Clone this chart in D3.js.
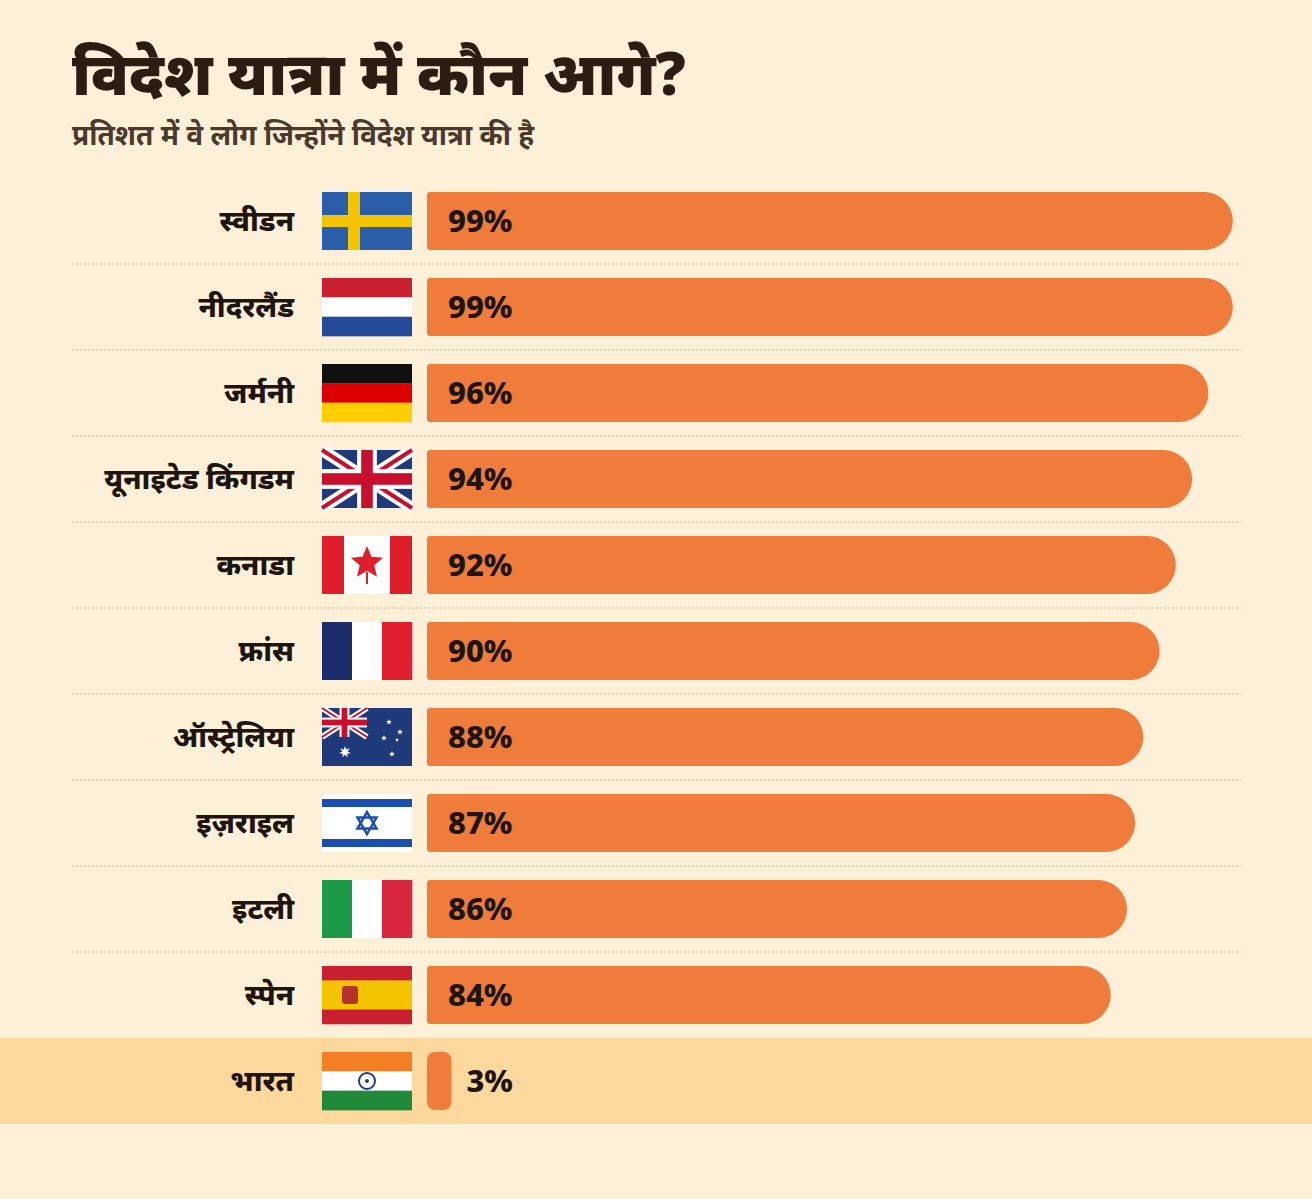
<!DOCTYPE html>
<html><head><meta charset="utf-8">
<script src="https://cdn.jsdelivr.net/npm/d3@7"></script>
<style>body{margin:0;background:#fdf0d8;}text{font-family:"Noto Sans","Noto Sans Devanagari",sans-serif;}</style>
</head><body><svg id="c" width="1312" height="1199"></svg>
<script>
const countries=["स्वीडन","नीदरलैंड","जर्मनी","यूनाइटेड किंगडम","कनाडा","फ्रांस","ऑस्ट्रेलिया","इज़राइल","इटली","स्पेन","भारत"];
const flagCodes=["se","nl","de","gb","ca","fr","au","il","it","es","in"];
const values=[99,99,96,94,92,90,88,87,86,84,3];
const title="विदेश यात्रा में कौन आगे?";
const subtitle="प्रतिशत में वे लोग जिन्होंने विदेश यात्रा की है";

const svg=d3.select("#c");
svg.append("rect").attr("width",1312).attr("height",1199).attr("fill","#fdf0d8");
svg.append("text").attr("x",72).attr("y",95).attr("font-size",60).attr("font-weight",900).attr("fill","#2b1d12").text(title);
svg.append("text").attr("x",72).attr("y",145).attr("font-size",28).attr("font-weight",700).attr("fill","#4a3a2c").text(subtitle);

const y=d3.scaleBand().domain(countries).range([178,1124]).paddingInner(0).paddingOuter(0);
const x=d3.scaleLinear().domain([0,100]).range([427,1241]);
const bh=58;
const ind=countries[10];
svg.append("rect").attr("x",0).attr("y",y(ind)+y.bandwidth()/2-43).attr("width",1312).attr("height",86).attr("fill","#fdd89c");
countries.slice(0,10).forEach((c,i)=>{
  if(i<9) svg.append("line").attr("x1",72).attr("x2",1241).attr("y1",y(c)+y.bandwidth()).attr("y2",y(c)+y.bandwidth()).attr("stroke","#c9b89e").attr("stroke-dasharray","2,2");
});
const g=svg.selectAll("g.row").data(countries).join("g").attr("transform",d=>`translate(0,${y(d)+y.bandwidth()/2})`);
g.append("text").attr("x",294).attr("y",10).attr("text-anchor","end").attr("font-size",29).attr("font-weight",800).attr("fill","#1e1510").text(d=>d);
g.each(function(d,i){
  const s=d3.select(this), v=values[i], x0=x(0), x1=x(v), w=x1-x0;
  if(w<bh){
    s.append("rect").attr("x",x0).attr("y",-bh/2).attr("width",w).attr("height",bh).attr("rx",8).attr("fill","#f07c3b");
  } else {
    const r=bh/2;
    const p=`M${x0+3},${-bh/2}H${x1-r}A${r},${bh/2} 0 0 1 ${x1-r},${bh/2}H${x0+3}Q${x0},${bh/2} ${x0},${bh/2-3}V${-bh/2+3}Q${x0},${-bh/2} ${x0+3},${-bh/2}Z`;
    s.append("path").attr("d",p).attr("fill","#f07c3b");
  }
  s.append("text").attr("x",v<10?x1+15:x0+21).attr("y",11).attr("font-size",31).attr("font-weight",800).attr("fill","#1e1510").text(v+"%");
  drawFlag(s.append("g").attr("transform","translate(322,-29)"),flagCodes[i]);
});
function hs(g,cols){const h=58/cols.length;cols.forEach((c,k)=>g.append("rect").attr("y",k*h).attr("width",90).attr("height",h+0.3).attr("fill",c));}
function vs(g,cols){const w=90/cols.length;cols.forEach((c,k)=>g.append("rect").attr("x",k*w).attr("width",w+0.3).attr("height",58).attr("fill",c));}
function uj(g,W,H){
  g.append("rect").attr("width",W).attr("height",H).attr("fill","#1f3a7a");
  [[0,0,W,H],[W,0,0,H]].forEach(l=>{g.append("line").attr("x1",l[0]).attr("y1",l[1]).attr("x2",l[2]).attr("y2",l[3]).attr("stroke","#fff").attr("stroke-width",H*0.2);
   g.append("line").attr("x1",l[0]).attr("y1",l[1]).attr("x2",l[2]).attr("y2",l[3]).attr("stroke","#c8102e").attr("stroke-width",H*0.07);});
  g.append("rect").attr("x",W/2-H*0.17).attr("width",H*0.34).attr("height",H).attr("fill","#fff");
  g.append("rect").attr("y",H*0.33).attr("width",W).attr("height",H*0.34).attr("fill","#fff");
  g.append("rect").attr("x",W/2-H*0.1).attr("width",H*0.2).attr("height",H).attr("fill","#c8102e");
  g.append("rect").attr("y",H*0.4).attr("width",W).attr("height",H*0.2).attr("fill","#c8102e");
}
function star(g,cx,cy,R,n,fill){const pts=[];for(let k=0;k<2*n;k++){const a=Math.PI*k/n-Math.PI/2,rr=k%2?R*0.45:R;pts.push([cx+rr*Math.cos(a),cy+rr*Math.sin(a)]);}g.append("polygon").attr("points",pts.join(" ")).attr("fill",fill);}
function drawFlag(g,c){
  if(c=="se"){g.append("rect").attr("width",90).attr("height",58).attr("fill","#2a5ea8");g.append("rect").attr("x",26).attr("width",12).attr("height",58).attr("fill","#f5c400");g.append("rect").attr("y",23).attr("width",90).attr("height",12).attr("fill","#f5c400");}
  if(c=="nl")hs(g,["#c8202f","#fff","#254a98"]);
  if(c=="de")hs(g,["#111","#dd0000","#ffce00"]);
  if(c=="gb")uj(g,90,58);
  if(c=="ca"){g.append("rect").attr("width",90).attr("height",58).attr("fill","#e01e2b");g.append("rect").attr("x",22).attr("width",46).attr("height",58).attr("fill","#fff");star(g,45,27,17,5,"#e01e2b");g.append("rect").attr("x",44).attr("y",36).attr("width",2).attr("height",12).attr("fill","#e01e2b");}
  if(c=="fr")vs(g,["#1d2d6b","#fff","#e0202e"]);
  if(c=="au"){g.append("rect").attr("width",90).attr("height",58).attr("fill","#1f3a7a");uj(g,45,29);star(g,23,44,6,7,"#fff");[[67,14,3],[78,24,3],[62,30,3],[70,46,3],[75,32,2]].forEach(s=>star(g,s[0],s[1],s[2],5,"#fff"));}
  if(c=="il"){g.append("rect").attr("width",90).attr("height",58).attr("fill","#fff");g.append("rect").attr("y",5).attr("width",90).attr("height",8).attr("fill","#1a4fb0");g.append("rect").attr("y",45).attr("width",90).attr("height",8).attr("fill","#1a4fb0");
    [0,Math.PI].forEach(o=>{const p=[0,1,2].map(k=>{const a=o+k*2*Math.PI/3-Math.PI/2;return[45+11*Math.cos(a),29+11*Math.sin(a)];});g.append("polygon").attr("points",p.join(" ")).attr("fill","none").attr("stroke","#1a4fb0").attr("stroke-width",2.5);});}
  if(c=="it")vs(g,["#1c9a4a","#fff","#d7263d"]);
  if(c=="es"){hs(g,["#c8202f","#f5c400","#f5c400","#c8202f"]);g.append("rect").attr("x",20).attr("y",20).attr("width",16).attr("height",18).attr("fill","#b5342a").attr("rx",3);}
  if(c=="in"){hs(g,["#f47f24","#fff","#1f8a3a"]);g.append("circle").attr("cx",45).attr("cy",29).attr("r",8).attr("fill","none").attr("stroke","#1f3a8a").attr("stroke-width",2);g.append("circle").attr("cx",45).attr("cy",29).attr("r",2).attr("fill","#1f3a8a");}
}
</script></body></html>
